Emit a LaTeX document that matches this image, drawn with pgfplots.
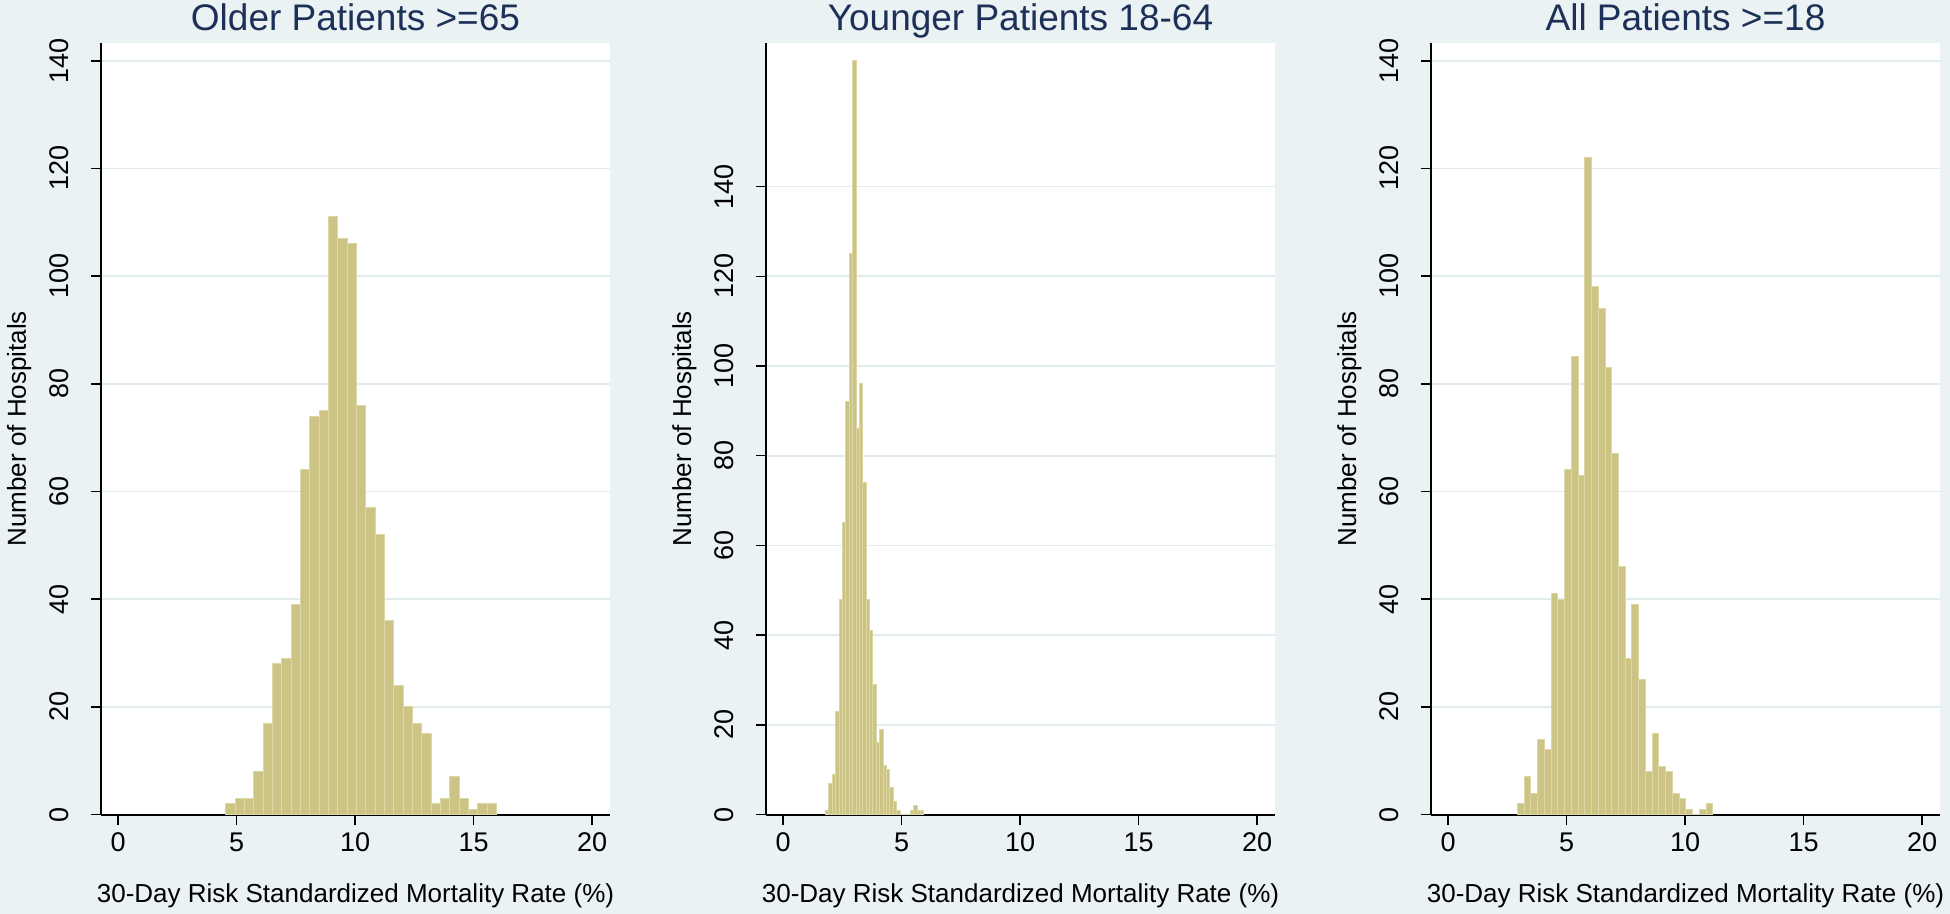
\documentclass[border=0pt]{standalone}
\usepackage{fontspec}
\setmainfont{Liberation Sans}
\usepackage{pgfplots}
\usepackage{pgfplotstable}
\pgfplotsset{compat=1.18}
\definecolor{bgc}{RGB}{234,242,243}
\definecolor{gridc}{RGB}{226,236,239}
\definecolor{barfill}{RGB}{204,196,132}
\definecolor{barline}{RGB}{221,215,166}
\definecolor{ttl}{RGB}{28,48,88}

% Older patients >=65 : bin left edges and counts (last row closes the last bin)
\pgfplotstableread{
x y
4.550 2
4.943 3
5.337 3
5.730 8
6.124 17
6.517 28
6.910 29
7.304 39
7.697 64
8.091 74
8.484 75
8.877 111
9.271 107
9.664 106
10.058 76
10.451 57
10.844 52
11.238 36
11.631 24
12.025 20
12.418 17
12.811 15
13.205 2
13.598 3
13.992 7
14.385 3
14.778 1
15.172 2
15.565 2
15.959 0
}\older

% Younger patients 18-64
\pgfplotstableread{
x y
1.790 1
1.933 7
2.076 9
2.219 23
2.362 48
2.505 65
2.648 92
2.791 125
2.934 168
3.077 86
3.220 96
3.363 74
3.506 48
3.649 41
3.792 29
3.935 16
4.078 19
4.221 11
4.364 10
4.507 6
4.650 3
4.793 1
4.936 0
5.079 0
5.222 0
5.365 1
5.508 2
5.651 1
5.794 1
5.937 0
}\younger

% All patients >=18
\pgfplotstableread{
x y
2.920 2
3.205 7
3.489 4
3.774 14
4.058 12
4.343 41
4.627 40
4.912 64
5.196 85
5.481 63
5.765 122
6.050 98
6.334 94
6.619 83
6.903 67
7.188 46
7.472 29
7.757 39
8.041 25
8.326 8
8.610 15
8.895 9
9.179 8
9.464 4
9.748 3
10.033 1
10.317 0
10.602 1
10.886 2
11.171 0
}\allp

\pgfplotsset{
  panel/.style={
    scale only axis, width=254.5pt, height=385.8pt,
    xmin=-0.72, xmax=20.75, ymin=0,
    axis x line*=bottom, axis y line*=left,
    axis line style={-, black, line width=1pt},
    axis background/.style={fill=white},
    xtick={0,5,10,15,20}, ytick={0,20,...,140},
    tick align=outside, major tick length=5pt,
    tick style={black, line width=0.75pt},
    ymajorgrids, grid style={color=gridc, line width=0.8pt},
    /pgf/number format/assume math mode=true,
    ticklabel style={font=\fontsize{13.5}{13.5}\selectfont},
    xticklabel style={anchor=north, inner sep=0pt, yshift=-4pt},
    yticklabel style={rotate=90, anchor=south, inner sep=0pt, yshift=11pt},
    xlabel={30-Day Risk Standardized Mortality Rate (\%)},
    ylabel={Number of Hospitals},
    xlabel style={font=\fontsize{13}{13}\selectfont, at={(axis description cs:0.5,0)}, anchor=base, yshift=-44.2pt},
    ylabel style={font=\fontsize{13}{13}\selectfont, at={(axis description cs:0,0.5)}, anchor=base, yshift=37.5pt},
    title style={font=\fontsize{18.5}{18.5}\selectfont, text=ttl, at={(axis description cs:0.5,1)}, anchor=base, yshift=0.3pt},
  },
  hbar/.style={ybar interval, fill=barfill, draw=barline, line width=0.5pt},
}

\begin{document}
\begin{tikzpicture}
\fill[bgc] (0,0) rectangle (975pt,457pt);

\begin{axis}[panel, at={(50.5pt,49.7pt)}, anchor=south west, ymax=143.3,
  title={Older Patients >=65}]
\addplot[hbar] table[x=x,y=y] {\older};
\end{axis}

\begin{axis}[panel, at={(383pt,49.7pt)}, anchor=south west, ymax=172,
  title={Younger Patients 18-64}]
\addplot[hbar] table[x=x,y=y] {\younger};
\end{axis}

\begin{axis}[panel, at={(715.5pt,49.7pt)}, anchor=south west, ymax=143.3,
  title={All Patients >=18}]
\addplot[hbar] table[x=x,y=y] {\allp};
\end{axis}

\pgfresetboundingbox
\path (0,0) rectangle (975pt,457pt);
\end{tikzpicture}
\end{document}
